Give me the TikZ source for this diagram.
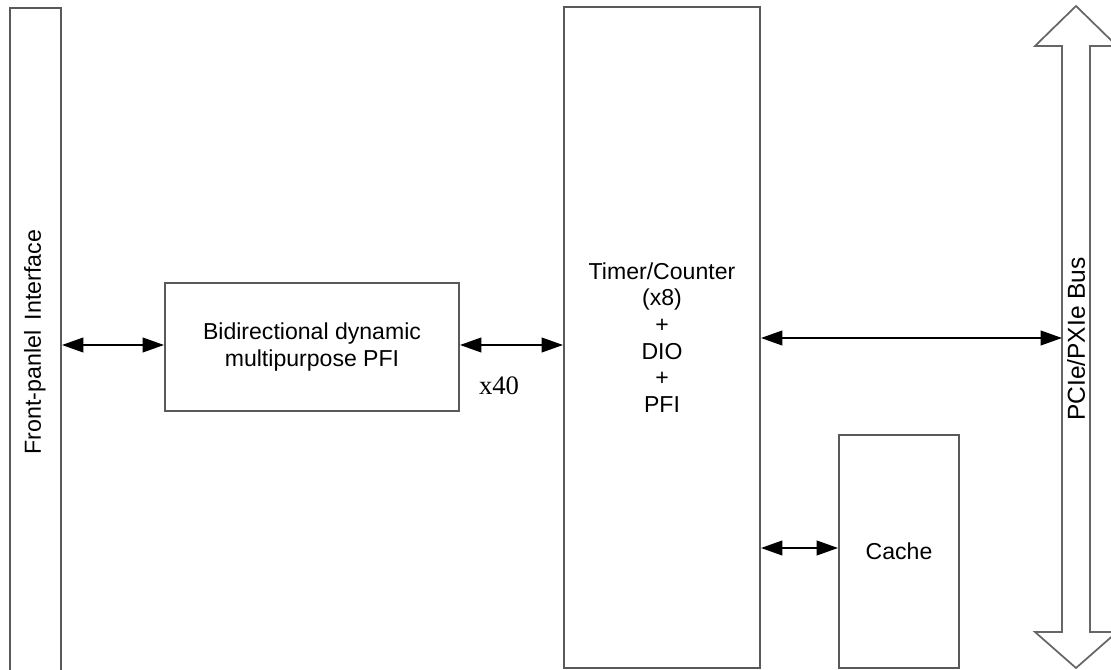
\documentclass[tikz,border=0pt]{standalone}
\usepackage{fontspec}
\setmainfont{Liberation Sans}
\newfontfamily\serifnum{Liberation Serif}
\usetikzlibrary{arrows.meta}

\tikzset{
  blockbox/.style={draw=black!65, line width=1.5pt, fill=white, rectangle,
    inner sep=0pt, align=center, font=\fontsize{17.3}{20.5}\selectfont},
  blocklabel/.style={inner sep=0pt, align=center, font=\fontsize{17.4}{20}\selectfont},
  biarrow/.style={line width=1.4pt, black,
    {Triangle[length=16pt,width=11pt]}-{Triangle[length=16pt,width=11pt]}},
  busoutline/.style={draw=black!60, line width=1.3pt, line join=miter}
}

\begin{document}
\begin{tikzpicture}[x=0.75pt, y=-0.75pt]
  \clip (0,0) rectangle (1111,670);
  \fill[white] (0,0) rectangle (1111,670);

  % front-panel strip, running past the bottom edge
  \node[blockbox, minimum width=38.25pt, minimum height=511.5pt] (fp) at (35.5,349) {};
  \node[blocklabel, rotate=90] (fplabel) at (35,342) {Front-panlel\, Interface};

  % PFI block
  \node[blockbox, minimum width=220.5pt, minimum height=96pt] (pfi) at (312,347)
    {Bidirectional dynamic\\multipurpose PFI};

  % timer/counter block
  \node[blockbox, minimum width=147pt, minimum height=495.75pt,
        font=\fontsize{17.3}{20}\selectfont] (timer) at (662,337.5)
    {Timer/Counter\\(x8)\\+\\DIO\\+\\PFI};

  % cache block
  \node[blockbox, minimum width=90pt, minimum height=174.75pt] (cache) at (899,551.5) {Cache};

  % PCIe/PXIe bus as an outlined double-headed arrow
  \coordinate (busT) at (1076,6);
  \coordinate (busB) at (1076,668);
  \draw[busoutline] (busT) -- (1117,46) -- (1090,46) -- (1090,632) -- (1117,632)
    -- (busB) -- (1035,632) -- (1062,632) -- (1062,46) -- (1035,46) -- cycle;
  \coordinate (busL) at (1062,338);
  \node[blocklabel, rotate=90, font=\fontsize{18.4}{20}\selectfont] (buslabel) at (1076,339) {PCIe/PXIe Bus};

  % connectors
  \draw[biarrow] (fp.east |- 0,345) -- (pfi.west |- 0,345);
  \draw[biarrow] (pfi.east |- 0,345) -- (timer.west |- 0,345);
  \node[inner sep=0pt, font=\serifnum\fontsize{20}{20}\selectfont] (x40) at (499,386) {x40};
  \draw[biarrow] (timer.east |- busL) -- (busL);
  \draw[biarrow] (timer.east |- 0,548) -- (cache.west |- 0,548);
\end{tikzpicture}
\end{document}
